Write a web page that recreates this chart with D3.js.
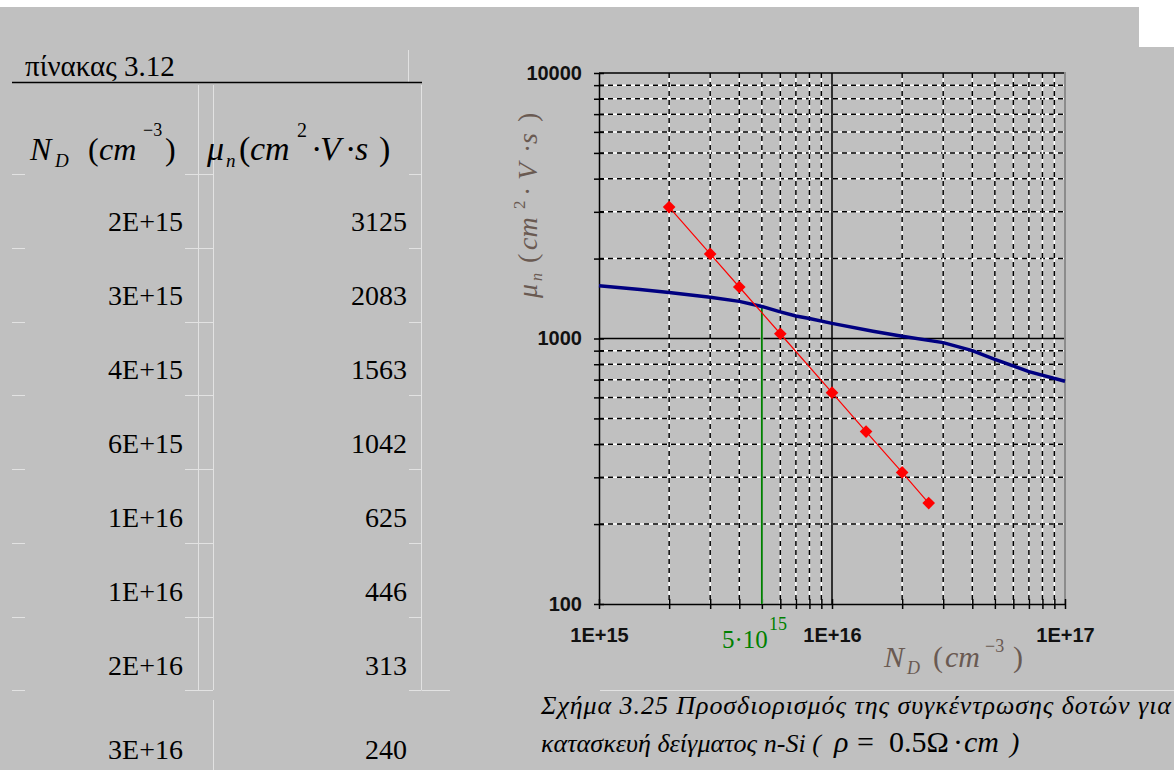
<!DOCTYPE html>
<html>
<head>
<meta charset="utf-8">
<script src="https://cdn.jsdelivr.net/npm/d3@7"></script>
<style>
body { margin: 0; background: #c0c0c0; }
svg { display: block; }
.serif { font-family: "Liberation Serif", "Times New Roman", Tinos, "DejaVu Serif", "Noto Serif", serif; }
.sans { font-family: "Liberation Sans", Arial, Arimo, sans-serif; }
</style>
</head>
<body>
<svg id="fig" width="1174" height="770"></svg>
<script>
// table 3.12 : donor concentration and the mobility needed for rho = 0.5 Ohm.cm
var tableN = [2e15, 3e15, 4e15, 6e15, 1e16, 1.4e16, 2e16, 2.6e16];
var tableMu = [3125, 2083, 1563, 1042, 625, 446, 313, 240];

// measured electron mobility curve of n-Si (blue)
var curveN = [1e15, 1.5e15, 2e15, 3e15, 4e15, 5e15, 6e15, 7e15, 8e15, 1e16, 1.5e16, 2e16, 3e16, 4e16, 5e16, 7e16, 1e17];
var curveMu = [1580, 1530, 1490, 1430, 1380, 1320, 1260, 1215, 1190, 1140, 1065, 1020, 965, 900, 835, 750, 690];

// intersection point marked in green
var crossN = 5e15;
var crossMu = 1320;

var xMajor = [1e15, 1e16, 1e17];
var yMajor = [100, 1000, 10000];

var svg = d3.select("#fig");
var faint = "#e2e2e2";

svg.append("rect").attr("width", 1174).attr("height", 770).attr("fill", "#c0c0c0");
svg.append("rect").attr("width", 1174).attr("height", 7).attr("fill", "#fff");
svg.append("rect").attr("x", 1139).attr("width", 35).attr("height", 47).attr("fill", "#fff");
svg.append("line").attr("x1", 600).attr("x2", 1174).attr("y1", 690.5).attr("y2", 690.5).attr("stroke", faint);

// little helper for the equation-like labels
function mathText(g, parts, color) {
    parts.forEach(function(p) {
        g.append("text")
            .attr("class", "serif")
            .attr("x", p[1]).attr("y", p[2])
            .attr("font-size", p[3])
            .attr("font-style", p[4] ? "italic" : "normal")
            .attr("fill", color)
            .text(p[0]);
    });
}

// ---------- table ----------
var fmtE = function(v) { return d3.format(".0e")(v).toUpperCase(); };

var tbl = svg.append("g");
var sepY = [174, 248, 322, 395, 469, 543, 617, 690];
// faint cell borders
[[198.5, 85, 690], [213.5, 85, 690], [213.5, 700, 770], [421.5, 85, 690], [408.5, 50, 82]].forEach(function(v) {
    tbl.append("line").attr("x1", v[0]).attr("x2", v[0]).attr("y1", v[1]).attr("y2", v[2]).attr("stroke", faint);
});
sepY.forEach(function(sy) {
    [[12, 25], [185, 213], [409, 421]].forEach(function(s) {
        tbl.append("line").attr("x1", s[0]).attr("x2", s[1]).attr("y1", sy + 0.5).attr("y2", sy + 0.5).attr("stroke", faint);
    });
});
tbl.append("line").attr("x1", 421.5).attr("x2", 450).attr("y1", 690.5).attr("y2", 690.5).attr("stroke", faint);

tbl.append("text").attr("class", "serif").attr("x", 25).attr("y", 76)
    .attr("font-size", 29).attr("fill", "#000")
    .text("πίνακας 3.12");
tbl.append("line").attr("x1", 12).attr("x2", 422).attr("y1", 82.5).attr("y2", 82.5)
    .attr("stroke", "#000").attr("stroke-width", 1.5);

mathText(tbl, [
    ["N", 30, 160, 32, true], ["D", 55, 167, 19, true],
    ["(", 88, 160, 32, false], ["cm", 99, 160, 32, true],
    ["−3", 143, 136, 18, false], [")", 165, 160, 32, false]
], "#000");
mathText(tbl, [
    ["μ", 207, 160, 34, true], ["n", 226, 167, 19, true],
    ["(", 239, 160, 34, false], ["cm", 250, 160, 34, true],
    ["2", 297, 137, 20, false], ["·", 311, 160, 34, false],
    ["V", 320, 160, 34, true], ["·", 345, 160, 34, false],
    ["s", 355, 160, 34, true], [")", 379, 160, 34, false]
], "#000");

var rowBase = tableN.map(function(d, i) { return i < 7 ? 231 + 74 * i : 759; });
tbl.selectAll("text.nval").data(tableN).enter().append("text")
    .attr("class", "nval serif")
    .attr("x", 183).attr("y", function(d, i) { return rowBase[i]; })
    .attr("text-anchor", "end").attr("font-size", 28)
    .text(fmtE);
tbl.selectAll("text.muval").data(tableMu).enter().append("text")
    .attr("class", "muval serif")
    .attr("x", 407).attr("y", function(d, i) { return rowBase[i]; })
    .attr("text-anchor", "end").attr("font-size", 28)
    .text(function(d) { return d; });

// ---------- chart ----------
var x = d3.scaleLog().domain([1e15, 1e17]).range([599, 1065]);
var y = d3.scaleLog().domain([100, 10000]).range([604, 73]);

function isMajor(v) {
    var l = Math.log10(v);
    return Math.abs(l - Math.round(l)) < 1e-9;
}

var grid = svg.append("g");
var xMinor = x.ticks().filter(function(d) { return !isMajor(d); });
var yMinor = y.ticks().filter(function(d) { return !isMajor(d); });

// minor gridlines: white line under a black dashed one
yMinor.forEach(function(v) {
    grid.append("line").attr("x1", 599).attr("x2", 1065).attr("y1", y(v)).attr("y2", y(v))
        .attr("stroke", "#fff").attr("stroke-width", 1.5);
    grid.append("line").attr("x1", 599).attr("x2", 1065).attr("y1", y(v)).attr("y2", y(v))
        .attr("stroke", "#000").attr("stroke-width", 1.5).attr("stroke-dasharray", "5,4");
});
xMinor.forEach(function(v) {
    grid.append("line").attr("x1", x(v)).attr("x2", x(v)).attr("y1", 73).attr("y2", 604)
        .attr("stroke", "#fff").attr("stroke-width", 1.5);
    grid.append("line").attr("x1", x(v)).attr("x2", x(v)).attr("y1", 73).attr("y2", 604)
        .attr("stroke", "#000").attr("stroke-width", 1.5).attr("stroke-dasharray", "5,4");
});
// major gridlines solid
[1000, 10000].forEach(function(v) {
    grid.append("line").attr("x1", 599).attr("x2", 1065).attr("y1", y(v)).attr("y2", y(v))
        .attr("stroke", "#000").attr("stroke-width", 1.5);
});
grid.append("line").attr("x1", x(1e16)).attr("x2", x(1e16)).attr("y1", 73).attr("y2", 604)
    .attr("stroke", "#000").attr("stroke-width", 1.5);
grid.append("line").attr("x1", 1065).attr("x2", 1065).attr("y1", 72).attr("y2", 604)
    .attr("stroke", "#8c8c8c").attr("stroke-width", 2);

// axes
var yAxis = d3.axisLeft(y)
    .tickValues(y.ticks())
    .tickFormat(function(d) { return yMajor.indexOf(d) >= 0 ? d3.format("d")(d) : ""; })
    .tickSizeInner(5).tickSizeOuter(0).tickPadding(12);
var gy = svg.append("g").attr("transform", "translate(599,0)").call(yAxis);
gy.selectAll(".tick line").attr("x1", 5);

var xAxis = d3.axisBottom(x)
    .tickValues(x.ticks())
    .tickFormat(function(d) { return xMajor.indexOf(d) >= 0 ? fmtE(d) : ""; })
    .tickSizeInner(5).tickSizeOuter(0).tickPadding(19);
var gx = svg.append("g").attr("transform", "translate(0,604)").call(xAxis);
gx.selectAll(".tick line").attr("y1", -5);

[gx, gy].forEach(function(g) {
    g.attr("class", "sans").attr("font-family", null).attr("font-size", 20).attr("font-weight", "bold");
    g.selectAll(".domain").attr("stroke", "#000").attr("stroke-width", 1.5);
    g.selectAll(".tick line").attr("stroke", "#000").attr("stroke-width", 1.5);
    g.selectAll(".tick text").attr("fill", "#111");
});

// green marker of the solution (over the dashed gridline)
svg.append("line")
    .attr("x1", x(crossN)).attr("x2", x(crossN))
    .attr("y1", y(crossMu)).attr("y2", y(100))
    .attr("stroke", "#c0c0c0").attr("stroke-width", 3);
svg.append("line")
    .attr("x1", x(crossN)).attr("x2", x(crossN))
    .attr("y1", y(crossMu)).attr("y2", y(100))
    .attr("stroke", "#008000").attr("stroke-width", 1.8);
mathText(svg.append("g"), [
    ["5·10", 722, 648, 25, false], ["15", 769, 630, 18, false]
], "#008000");

// blue mobility curve
var line = d3.line().x(function(d) { return x(d[0]); }).y(function(d) { return y(d[1]); });
svg.append("path")
    .datum(d3.zip(curveN, curveMu))
    .attr("d", line)
    .attr("fill", "none").attr("stroke", "#000080").attr("stroke-width", 3.5);

// red points of table 3.12
var redPts = d3.zip(tableN, tableMu);
svg.append("path")
    .datum(redPts)
    .attr("d", line)
    .attr("fill", "none").attr("stroke", "#ff0000").attr("stroke-width", 1.2);
svg.selectAll("path.diamond").data(redPts).enter().append("path")
    .attr("class", "diamond")
    .attr("d", d3.symbol().type(d3.symbolSquare).size(80))
    .attr("transform", function(d) { return "translate(" + x(d[0]) + "," + y(d[1]) + ") rotate(45)"; })
    .attr("fill", "#ff0000");

// axis titles
var titleCol = "#6a5a52";
var yt = svg.append("g").attr("transform", "translate(537,298) rotate(-90)");
mathText(yt, [
    ["μ", 0, 0, 28, true], ["n", 17, 5, 16, true],
    ["(", 35, 0, 28, false], ["cm", 48, 0, 28, true],
    ["2", 89, -12, 17, false], ["·", 102, 0, 28, false],
    ["V", 118, 0, 28, true], ["·", 145, 0, 28, false],
    ["s", 154, 0, 28, true], [")", 176, 0, 28, false]
], titleCol);
mathText(svg.append("g"), [
    ["N", 884, 667, 30, true], ["D", 907, 674, 18, true],
    ["(", 933, 667, 30, false], ["cm", 945, 667, 30, true],
    ["−3", 985, 652, 18, false], [")", 1013, 667, 30, false]
], titleCol);

// caption
svg.append("text").attr("class", "serif").attr("x", 541).attr("y", 714)
    .attr("font-size", 26).attr("font-style", "italic")
    .attr("textLength", 630).attr("lengthAdjust", "spacing")
    .text("Σχήμα 3.25 Προσδιορισμός της συγκέντρωσης δοτών για");
svg.append("text").attr("class", "serif").attr("x", 541).attr("y", 752)
    .attr("font-size", 26).attr("font-style", "italic")
    .attr("textLength", 280).attr("lengthAdjust", "spacing")
    .text("κατασκευή δείγματος n-Si (");
mathText(svg.append("g"), [
    ["ρ", 834, 752, 30, true], ["=", 857, 752, 30, false],
    ["0.5Ω", 889, 752, 30, false], ["·", 953, 752, 30, false],
    ["cm", 964, 752, 30, true], [")", 1010, 752, 28, true]
], "#000");
</script>
</body>
</html>
